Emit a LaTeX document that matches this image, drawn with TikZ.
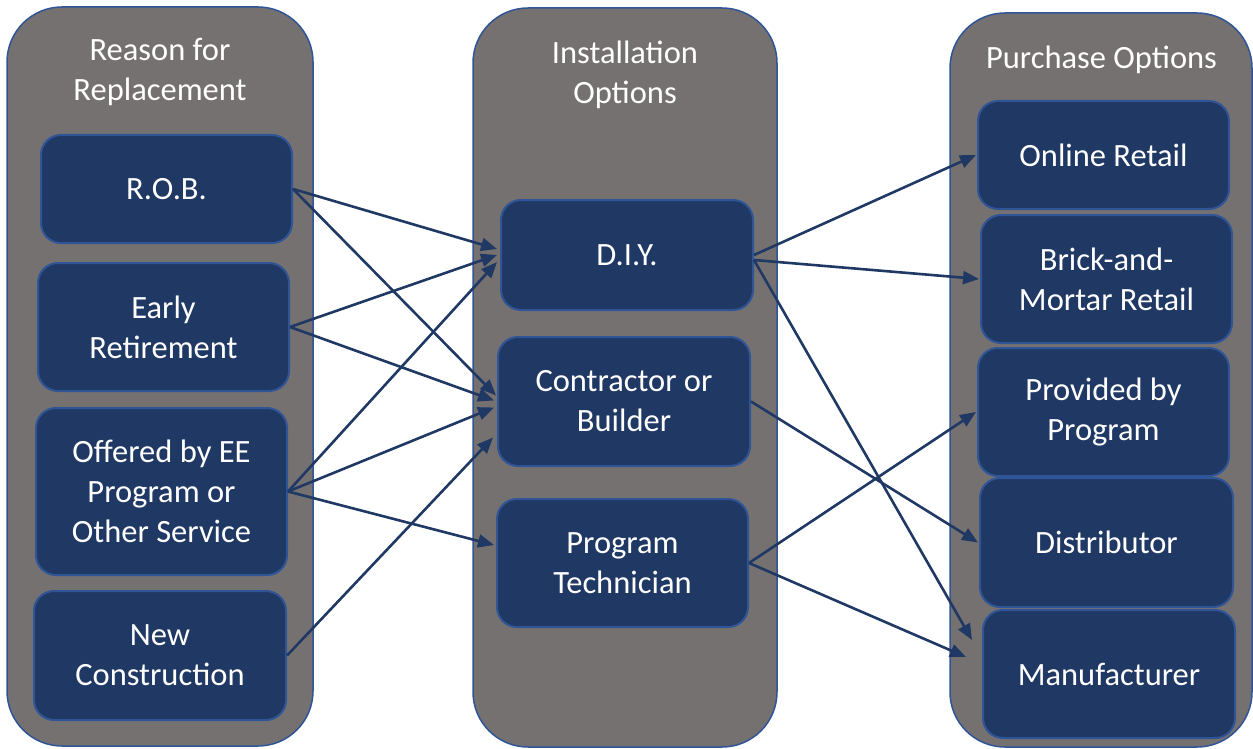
\documentclass[tikz,border=0pt]{standalone}
\usepackage{fontspec}
\setmainfont{Carlito}
\usetikzlibrary{arrows.meta}

\definecolor{panelgray}{HTML}{767171}
\definecolor{boxblue}{HTML}{203864}
\definecolor{edgeblue}{HTML}{2F5597}

\tikzset{
  panel/.style={draw=edgeblue, line width=1.5pt, fill=panelgray, rounded corners=55pt},
  title/.style={text=white, align=center, font=\fontsize{32.5}{40}\selectfont},
  inbox/.style={draw=edgeblue, line width=2pt, fill=boxblue, rounded corners=20pt,
    text=white, align=center, font=\fontsize{32.5}{40}\selectfont, inner sep=0pt},
  conn/.style={draw=boxblue, line width=2.6pt, -{Triangle[length=16pt,width=13pt]}}
}

\begin{document}
\begin{tikzpicture}[x=1pt, y=-1pt]
\useasboundingbox (0,0) rectangle (1253,749);

% column panels
\draw[panel] (7,7) rectangle (313,746);
\draw[panel] (473,8) rectangle (777,747);
\draw[panel] (950,13) rectangle (1252,747);

% column titles
\node[title] (tleft) at (160,72) {Reason for\\Replacement};
\node[title] (tmid) at (625,75) {Installation\\Options};
\node[title] (tright) at (1101.5,60) {Purchase Options};

% reasons
\node[inbox, minimum width=251pt, minimum height=108pt] (rob) at (166.5,189) {R.O.B.};
\node[inbox, minimum width=251pt, minimum height=128pt] (early) at (163.5,327) {Early\\Retirement};
\node[inbox, minimum width=251pt, minimum height=167pt] (offered) at (161.5,491.5) {Offered by EE\\Program or\\Other Service};
\node[inbox, minimum width=252pt, minimum height=129pt] (newc) at (160,655.5) {New\\Construction};

% installation
\node[inbox, minimum width=252pt, minimum height=110pt] (diy) at (627,255) {D.I.Y.};
\node[inbox, minimum width=252pt, minimum height=129pt] (contr) at (624,401.5) {Contractor or\\Builder};
\node[inbox, minimum width=251pt, minimum height=128pt] (prog) at (622.5,563) {Program\\Technician};

% purchase
\node[inbox, minimum width=251pt, minimum height=108pt] (online) at (1103.5,155) {Online Retail};
\node[inbox, minimum width=251pt, minimum height=128pt] (brick) at (1106.5,279) {Brick-and-\\Mortar Retail};
\node[inbox, minimum width=251pt, minimum height=128pt] (provided) at (1103.5,412) {Provided by\\Program};
\node[inbox, minimum width=253pt, minimum height=129pt] (distr) at (1106.5,542.5) {Distributor};
\node[inbox, minimum width=252pt, minimum height=128pt] (manu) at (1109,674) {Manufacturer};

% reason -> installation
\draw[conn] (rob.east) -- ([xshift=-3pt,yshift=6pt]diy.west);
\draw[conn] (rob.east) -- ([xshift=-1pt,yshift=6pt]contr.west);
\draw[conn] (early.east) -- ([xshift=-3pt]diy.west);
\draw[conn] (early.east) -- ([xshift=-3pt,yshift=1pt]contr.west);
\draw[conn] (offered.east) -- ([xshift=-3pt,yshift=-7pt]diy.west);
\draw[conn] (offered.east) -- ([xshift=-3pt,yshift=-6pt]contr.west);
\draw[conn] (offered.east) -- ([xshift=-2pt,yshift=18pt]prog.west);
\draw[conn] (newc.east) -- ([xshift=-4pt,yshift=-36pt]contr.west);

% installation -> purchase
\draw[conn] (diy.east) -- ([xshift=-1pt]online.west);
\draw[conn] ([yshift=-5pt]diy.east) -- ([xshift=-1pt]brick.west);
\draw[conn] ([yshift=-5pt]diy.east) -- ([xshift=-10pt,yshift=34pt]manu.west);
\draw[conn] (contr.east) -- ([xshift=-1pt]distr.west);
\draw[conn] (prog.east) -- ([xshift=-1pt]provided.west);
\draw[conn] (prog.east) -- ([xshift=-16pt,yshift=17pt]manu.west);
\end{tikzpicture}
\end{document}
